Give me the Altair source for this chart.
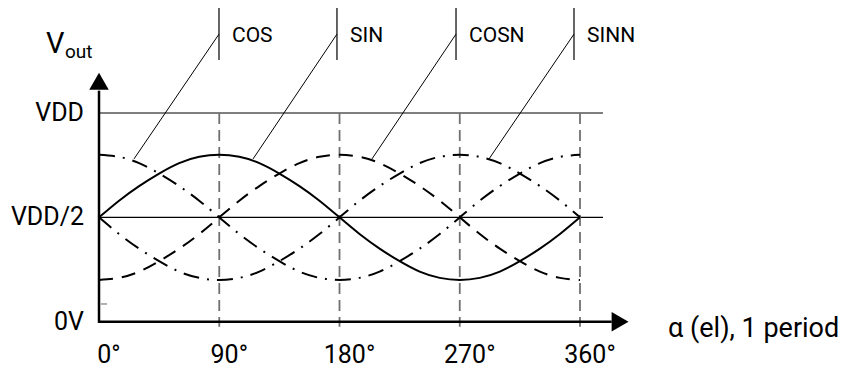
import altair as alt
import pandas as pd

# --- values read at 15 degree steps (fraction of VDD) ---
angles = [0, 15, 30, 45, 60, 75, 90, 105, 120, 135, 150, 165, 180,
          195, 210, 225, 240, 255, 270, 285, 300, 315, 330, 345, 360]
sin_v = [0.50, 0.58, 0.65, 0.71, 0.76, 0.79, 0.80, 0.79, 0.76, 0.71, 0.65, 0.58, 0.50,
         0.42, 0.35, 0.29, 0.24, 0.21, 0.20, 0.21, 0.24, 0.29, 0.35, 0.42, 0.50]
cos_v = [0.80, 0.79, 0.76, 0.71, 0.65, 0.58, 0.50, 0.42, 0.35, 0.29, 0.24, 0.21, 0.20,
         0.21, 0.24, 0.29, 0.35, 0.42, 0.50, 0.58, 0.65, 0.71, 0.76, 0.79, 0.80]
cosn_v = [0.20, 0.21, 0.24, 0.29, 0.35, 0.42, 0.50, 0.58, 0.65, 0.71, 0.76, 0.79, 0.80,
          0.79, 0.76, 0.71, 0.65, 0.58, 0.50, 0.42, 0.35, 0.29, 0.24, 0.21, 0.20]
sinn_v = [0.50, 0.42, 0.35, 0.29, 0.24, 0.21, 0.20, 0.21, 0.24, 0.29, 0.35, 0.42, 0.50,
          0.58, 0.65, 0.71, 0.76, 0.79, 0.80, 0.79, 0.76, 0.71, 0.65, 0.58, 0.50]

# axis ticks
x_ticks = [0, 90, 180, 270, 360]
x_tick_labels = ["0°", "90°", "180°", "270°", "360°"]
y_ticks = [0.0, 0.5, 1.0]
y_tick_labels = ["0V", "VDD/2", "VDD"]

# callouts: label, position of the stem, where the leader touches the curve
callout_labels = ["COS", "SIN", "COSN", "SINN"]
callout_stem_x = [89.8, 178.1, 267.2, 355.5]
callout_tip_x = [26.2, 115.3, 204.3, 291.9]
callout_tip_v = [0.78, 0.78, 0.78, 0.78]

W, H = 847, 373
xs = alt.Scale(domain=[-74.10, 559.83], nice=False, zero=False)
ys = alt.Scale(domain=[-0.2458, 1.5415], nice=False, zero=False)
FONT = "Roboto"

DASH_DOT = [16, 8, 2, 8]
DASHED = [14, 9]


def X(field):
    return alt.X(field, scale=xs, axis=None)


def Y(field):
    return alt.Y(field, scale=ys, axis=None)


def curve(values, dash=None):
    df = pd.DataFrame({"a": angles, "v": values})
    kw = dict(interpolate="natural", color="black", strokeWidth=2, strokeCap="butt")
    if dash is not None:
        kw["strokeDash"] = dash
    return alt.Chart(df).mark_line(**kw).encode(x=X("a:Q"), y=Y("v:Q"), order="a:Q")


cos_line = curve(cos_v, DASH_DOT)
cosn_line = curve(cosn_v, DASHED)
sinn_line = curve(sinn_v, DASH_DOT)
sin_line = curve(sin_v)

# horizontal reference lines at VDD and VDD/2
hlines = alt.Chart(pd.DataFrame({"v": [1.0, 0.5], "xa": [0.0, 0.0], "xb": [377.2, 377.2]})).mark_rule(
    color="black", strokeWidth=1.2
).encode(x=X("xa:Q"), x2="xb:Q", y=Y("v:Q"))

# dashed gray verticals at each quarter period
vlines = alt.Chart(pd.DataFrame({"a": x_ticks[1:], "va": [1.0] * 4, "vb": [-0.024] * 4})).mark_rule(
    color="#707070", strokeWidth=1.8, strokeDash=[11, 6]
).encode(x=X("a:Q"), y=Y("va:Q"), y2="vb:Q")

# axes with arrowheads
x_axis = alt.Chart(pd.DataFrame({"xa": [0.0], "xb": [383.7], "v": [0.0]})).mark_rule(
    color="black", strokeWidth=2.5
).encode(x=X("xa:Q"), x2="xb:Q", y=Y("v:Q"))
y_axis = alt.Chart(pd.DataFrame({"a": [0.0], "va": [-0.006], "vb": [1.107]})).mark_rule(
    color="black", strokeWidth=2.5
).encode(x=X("a:Q"), y=Y("va:Q"), y2="vb:Q")
arrow_x = alt.Chart(pd.DataFrame({"a": [390.0], "v": [0.0]})).mark_point(
    shape="triangle-right", size=380, filled=True, color="black", opacity=1
).encode(x=X("a:Q"), y=Y("v:Q"))
arrow_y = alt.Chart(pd.DataFrame({"a": [0.0], "v": [1.152]})).mark_point(
    shape="triangle-up", size=380, filled=True, color="black", opacity=1
).encode(x=X("a:Q"), y=Y("v:Q"))

# small gray tick mark on the y axis
gray_tick = alt.Chart(pd.DataFrame({"xa": [1.5], "xb": [6.0], "v": [0.085]})).mark_rule(
    color="#b0b0b0", strokeWidth=2
).encode(x=X("xa:Q"), x2="xb:Q", y=Y("v:Q"))

# tick labels
x_lab = alt.Chart(pd.DataFrame({"a": x_ticks, "v": [0.0] * 5, "t": x_tick_labels})).mark_text(
    font=FONT, fontSize=25, align="center", baseline="middle", dx=10, dy=33
).encode(x=X("a:Q"), y=Y("v:Q"), text="t:N")
y_lab = alt.Chart(pd.DataFrame({"a": [0.0] * 3, "v": y_ticks, "t": y_tick_labels})).mark_text(
    font=FONT, fontSize=25, align="right", baseline="middle", dx=-15
).encode(x=X("a:Q"), y=Y("v:Q"), text="t:N")

# axis titles
titles = pd.DataFrame({
    "a": [-39.7, -25.5, 425.9],
    "v": [1.287, 1.263, -0.073],
    "t": ["V", "out", "α (el), 1 period"],
    "fs": [29, 19, 27],
})
title_marks = alt.Chart(titles).mark_text(
    font=FONT, align="left", baseline="alphabetic"
).encode(x=X("a:Q"), y=Y("v:Q"), text="t:N", size=alt.Size("fs:Q", scale=None, legend=None))

# callouts
stem_df = pd.DataFrame({"t": callout_labels, "sx": callout_stem_x,
                        "top": [1.503] * 4, "bot": [1.254] * 4})
stems = alt.Chart(stem_df).mark_rule(color="black", strokeWidth=1.2).encode(
    x=X("sx:Q"), y=Y("top:Q"), y2="bot:Q")

leader_df = pd.DataFrame({
    "t": callout_labels * 2,
    "a": callout_stem_x + callout_tip_x,
    "v": [1.378] * 4 + callout_tip_v,
    "k": [0] * 4 + [1] * 4,
})
leaders = alt.Chart(leader_df).mark_line(color="black", strokeWidth=1).encode(
    x=X("a:Q"), y=Y("v:Q"), detail="t:N", order="k:Q")

label_df = pd.DataFrame({"t": callout_labels, "a": callout_stem_x, "v": [1.378] * 4})
c_text = alt.Chart(label_df).mark_text(
    font=FONT, fontSize=21, align="left", baseline="alphabetic", dx=13, dy=8
).encode(x=X("a:Q"), y=Y("v:Q"), text="t:N")

chart = alt.layer(
    hlines, vlines, gray_tick, cos_line, cosn_line, sinn_line, sin_line,
    x_axis, y_axis, arrow_x, arrow_y,
    x_lab, y_lab, title_marks, stems, leaders, c_text,
).properties(
    width=W, height=H, padding=0, background="white"
).configure_view(strokeWidth=0)

chart.save("out.html", embed_options={"renderer": "svg", "actions": False})
